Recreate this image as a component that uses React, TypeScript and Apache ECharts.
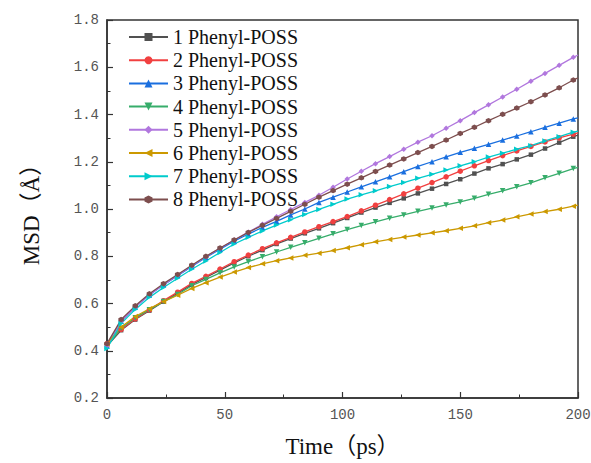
import React, { useEffect, useRef } from "react";
import * as echarts from "echarts";

const times = [0, 6, 12, 18, 24, 30, 36, 42, 48, 54, 60, 66, 72, 78, 84, 90, 96, 102, 108, 114, 120, 126, 132, 138, 144, 150, 156, 162, 168, 174, 180, 186, 192, 198, 200];

const seriesNames = ["1 Phenyl-POSS", "2 Phenyl-POSS", "3 Phenyl-POSS", "4 Phenyl-POSS", "5 Phenyl-POSS", "6 Phenyl-POSS", "7 Phenyl-POSS", "8 Phenyl-POSS"];

const s1 = [0.42, 0.487, 0.532, 0.57, 0.608, 0.644, 0.68, 0.71, 0.741, 0.772, 0.8, 0.826, 0.852, 0.875, 0.897, 0.918, 0.94, 0.962, 0.985, 1.006, 1.026, 1.045, 1.066, 1.086, 1.106, 1.126, 1.15, 1.172, 1.19, 1.21, 1.23, 1.256, 1.281, 1.306, 1.313];
const s2 = [0.43, 0.49, 0.535, 0.573, 0.612, 0.648, 0.685, 0.715, 0.746, 0.777, 0.805, 0.832, 0.857, 0.88, 0.903, 0.925, 0.947, 0.968, 0.992, 1.016, 1.04, 1.064, 1.088, 1.112, 1.136, 1.16, 1.183, 1.205, 1.226, 1.246, 1.265, 1.284, 1.301, 1.317, 1.322];
const s3 = [0.42, 0.525, 0.585, 0.636, 0.679, 0.718, 0.757, 0.795, 0.83, 0.864, 0.894, 0.922, 0.948, 0.975, 1.0, 1.028, 1.05, 1.072, 1.094, 1.115, 1.136, 1.158, 1.18, 1.2, 1.221, 1.24, 1.257, 1.274, 1.292, 1.309, 1.327, 1.346, 1.363, 1.381, 1.386];
const s4 = [0.42, 0.495, 0.54, 0.574, 0.608, 0.638, 0.675, 0.702, 0.73, 0.755, 0.777, 0.798, 0.818, 0.838, 0.857, 0.876, 0.895, 0.913, 0.93, 0.946, 0.961, 0.975, 0.99, 1.004, 1.017, 1.03, 1.045, 1.062, 1.077, 1.094, 1.111, 1.132, 1.151, 1.171, 1.176];
const s5 = [0.42, 0.525, 0.585, 0.637, 0.68, 0.72, 0.76, 0.798, 0.834, 0.869, 0.902, 0.935, 0.967, 0.998, 1.028, 1.058, 1.092, 1.127, 1.16, 1.192, 1.222, 1.253, 1.283, 1.31, 1.342, 1.374, 1.408, 1.441, 1.474, 1.507, 1.541, 1.574, 1.608, 1.642, 1.652];
const s6 = [0.43, 0.5, 0.545, 0.578, 0.608, 0.635, 0.664, 0.688, 0.712, 0.733, 0.752, 0.768, 0.781, 0.793, 0.804, 0.813, 0.824, 0.836, 0.849, 0.861, 0.871, 0.881, 0.89, 0.899, 0.908, 0.918, 0.929, 0.942, 0.953, 0.967, 0.979, 0.989, 0.999, 1.012, 1.016];
const s7 = [0.41, 0.515, 0.575, 0.626, 0.668, 0.707, 0.745, 0.78, 0.816, 0.852, 0.88, 0.907, 0.932, 0.955, 0.977, 0.998, 1.02, 1.042, 1.06, 1.077, 1.095, 1.112, 1.13, 1.147, 1.165, 1.183, 1.2, 1.22, 1.236, 1.253, 1.268, 1.288, 1.306, 1.325, 1.33];
const s8 = [0.43, 0.532, 0.59, 0.641, 0.684, 0.723, 0.762, 0.8, 0.835, 0.869, 0.901, 0.931, 0.96, 0.99, 1.02, 1.05, 1.078, 1.105, 1.132, 1.159, 1.186, 1.212, 1.239, 1.265, 1.292, 1.32, 1.346, 1.374, 1.401, 1.427, 1.454, 1.483, 1.513, 1.546, 1.555];

const allValues = [s1, s2, s3, s4, s5, s6, s7, s8];

const colors = ["#515151", "#F14040", "#1A6FDF", "#37AD6B", "#B177DE", "#CC9900", "#00CBCC", "#7D4E4E"];
const symbols = [
  "rect",
  "circle",
  "triangle",
  "path://M0,0 L10,0 L5,10 Z",
  "diamond",
  "path://M10,0 L10,10 L0,5 Z",
  "path://M0,0 L0,10 L10,5 Z",
  "path://M5,0 L9.33,2.5 L9.33,7.5 L5,10 L0.67,7.5 L0.67,2.5 Z",
];

export default function App() {
  const ref = useRef<HTMLDivElement>(null);
  useEffect(() => {
    if (!ref.current) return;
    const chart = echarts.init(ref.current, undefined, { renderer: "svg" });
    const serif = "'Liberation Serif', 'Times New Roman', 'Noto Sans CJK SC', serif";
    const tickFont = "'Liberation Mono', monospace";
    chart.setOption({
      animation: false,
      backgroundColor: "#ffffff",
      grid: {
        left: 107,
        right: 13,
        top: 20,
        bottom: 65,
        containLabel: false,
        outerBoundsMode: "none",
        show: true,
        borderColor: "#333",
        borderWidth: 1.5,
        backgroundColor: "transparent",
      },
      legend: {
        left: 123,
        top: 22,
        orient: "vertical",
        itemWidth: 39,
        itemHeight: 10,
        itemGap: 3.2,
        textStyle: { fontFamily: serif, fontSize: 20, color: "#111", lineHeight: 20 },
        data: seriesNames,
      },
      xAxis: {
        type: "value",
        min: 0,
        max: 200,
        interval: 50,
        name: "Time（ps）",
        nameLocation: "middle",
        nameGap: 37,
        nameTextStyle: { fontFamily: serif, fontSize: 23, color: "#111" },
        axisLine: { show: true, onZero: false, lineStyle: { color: "#333", width: 1.5 } },
        axisTick: { show: true, inside: true, length: 6, lineStyle: { color: "#333", width: 1.2 } },
        minorTick: { show: true, splitNumber: 2, length: 3.5, lineStyle: { color: "#333", width: 1 } },
        axisLabel: { fontFamily: tickFont, fontSize: 14, color: "#555", margin: 10 },
        splitLine: { show: false },
      },
      yAxis: {
        type: "value",
        min: 0.2,
        max: 1.8,
        interval: 0.2,
        name: "MSD（Å）",
        nameLocation: "middle",
        nameGap: 64,
        nameTextStyle: { fontFamily: serif, fontSize: 23, color: "#111" },
        axisLine: { show: true, onZero: false, lineStyle: { color: "#333", width: 1.5 } },
        axisTick: { show: true, inside: true, length: 6, lineStyle: { color: "#333", width: 1.2 } },
        minorTick: { show: true, splitNumber: 2, length: 3.5, lineStyle: { color: "#333", width: 1 } },
        axisLabel: {
          fontFamily: tickFont,
          fontSize: 14,
          color: "#555",
          margin: 8,
          formatter: (v: number) => v.toFixed(1),
        },
        splitLine: { show: false },
      },
      series: allValues.map((vals, i) => ({
        name: seriesNames[i],
        type: "line",
        symbol: symbols[i],
        symbolSize: i === 0 ? 4.5 : 5.5,
        color: colors[i],
        lineStyle: { width: 1.3, color: colors[i] },
        itemStyle: { color: colors[i] },
        data: times.map((t, j) =>
          j === times.length - 1 ? { value: [t, vals[j]], symbol: "none" } : [t, vals[j]]
        ),
      })),
    });
    return () => chart.dispose();
  }, []);
  return (
    <div
      ref={ref}
      style={{ position: "fixed", left: 0, top: 0, width: 591, height: 463 }}
    />
  );
}
